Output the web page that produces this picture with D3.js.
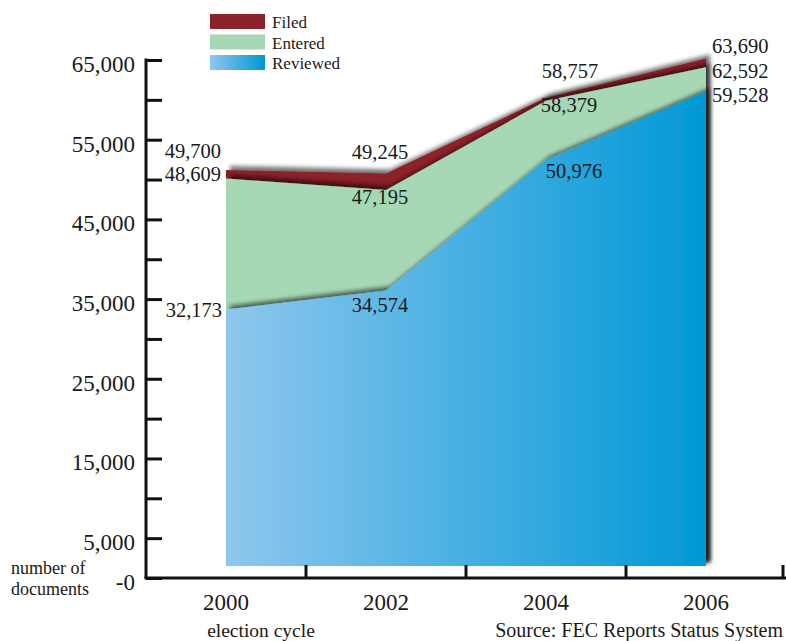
<!DOCTYPE html>
<html>
<head>
<meta charset="utf-8">
<script src="https://cdn.jsdelivr.net/npm/d3@7"></script>
<style>
  html, body { margin: 0; padding: 0; background: #fff; }
  svg { display: block; }
  text { font-family: "Liberation Serif", "DejaVu Serif", serif; fill: #1a1a1a; }
</style>
</head>
<body>
<svg id="chart" width="786" height="641"></svg>
<script>
// Election cycles and document counts per processing stage
const cycles = ["2000", "2002", "2004", "2006"];
const filed = [49700, 49245, 58757, 63690];
const entered = [48609, 47195, 58379, 62592];
const reviewed = [32173, 34574, 50976, 59528];
const seriesNames = ["Filed", "Entered", "Reviewed"];
const axisTicks = [0, 5000, 10000, 15000, 20000, 25000, 30000, 35000, 40000, 45000, 50000, 55000, 60000, 65000];
const axisLabelled = [0, 5000, 15000, 25000, 35000, 45000, 55000, 65000];

const W = 786, H = 641;
const svg = d3.select("#chart");
const defs = svg.append("defs");

const blueGrad = defs.append("linearGradient").attr("id", "blueArea")
  .attr("gradientUnits", "userSpaceOnUse").attr("x1", 226).attr("x2", 706).attr("y1", 0).attr("y2", 0);
blueGrad.append("stop").attr("offset", "0%").attr("stop-color", "#8fc7ee");
blueGrad.append("stop").attr("offset", "100%").attr("stop-color", "#0098d6");

const blueSwatch = defs.append("linearGradient").attr("id", "blueSwatch");
blueSwatch.append("stop").attr("offset", "0%").attr("stop-color", "#8fc7ee");
blueSwatch.append("stop").attr("offset", "100%").attr("stop-color", "#0098d6");

const shadow = defs.append("filter").attr("id", "shade")
  .attr("x", "-10%").attr("y", "-10%").attr("width", "120%").attr("height", "120%");
shadow.append("feDropShadow").attr("dx", 4).attr("dy", -4).attr("stdDeviation", 2)
  .attr("flood-color", "#000").attr("flood-opacity", 0.55);

// Scales: data area sits 12px above the drawn axis frame
const x = d3.scaleBand().domain(cycles).range([146, 786]).paddingInner(0).paddingOuter(0);
const cx = c => x(c) + x.bandwidth() / 2;
const y = d3.scaleLinear().domain([0, 65000]).range([566, 48]);
const axisShift = 12;

const colors = { Filed: "#8c222a", Entered: "#a6d8b6", Reviewed: "url(#blueArea)" };
const values = { Filed: filed, Entered: entered, Reviewed: reviewed };

const area = d3.area()
  .x((d, i) => cx(cycles[i]))
  .y0(y(0))
  .y1(d => y(d));

// Back to front: Filed, Entered, Reviewed
seriesNames.forEach(name => {
  svg.append("path")
    .datum(values[name])
    .attr("d", area)
    .attr("fill", colors[name])
    .attr("filter", "url(#shade)");
});

// Value labels: [dx, dy, anchor] relative to each point
const labelLayout = {
  Filed:    [[-5, -11.5, "end"], [-6, -14.5, "middle"], [24, -20, "middle"], [6, -5.5, "start"]],
  Entered:  [[-5, 2.5, "end"], [-6, 14, "middle"], [23, 11, "middle"], [6, 11, "start"]],
  Reviewed: [[-4, 7.5, "end"], [-6, 21.5, "middle"], [28, 18, "middle"], [6, 10.5, "start"]]
};
const fmt = d3.format(",");
seriesNames.forEach(name => {
  svg.append("g").selectAll("text")
    .data(values[name])
    .join("text")
    .attr("x", (d, i) => cx(cycles[i]) + labelLayout[name][i][0])
    .attr("y", (d, i) => y(d) + labelLayout[name][i][1])
    .attr("text-anchor", (d, i) => labelLayout[name][i][2])
    .attr("font-size", 20.5)
    .text(d => fmt(d));
});

// Y axis
const yAxisG = svg.append("g").attr("transform", `translate(146,${axisShift})`);
yAxisG.call(d3.axisRight(y).tickValues(axisTicks).tickSize(16).tickSizeOuter(0).tickFormat(""));
yAxisG.selectAll("path, line").attr("stroke", "#111").attr("stroke-width", 3);
yAxisG.select(".domain").attr("d", `M0,${y(65000) - 1.5}V${y(0)}`);
svg.append("g").selectAll("text")
  .data(axisLabelled)
  .join("text")
  .attr("x", 135)
  .attr("y", d => y(d) + axisShift + 12)
  .attr("text-anchor", "end")
  .attr("font-size", 23)
  .text(d => d === 0 ? "-0" : fmt(d));

// X axis: baseline with separators between cycles
const baseY = y(0) + axisShift;
svg.append("line").attr("x1", 144.5).attr("x2", W).attr("y1", baseY).attr("y2", baseY)
  .attr("stroke", "#111").attr("stroke-width", 3);
svg.append("g").selectAll("line")
  .data(cycles)
  .join("line")
  .attr("x1", d => Math.min(x(d) + x.bandwidth(), W - 3))
  .attr("x2", d => Math.min(x(d) + x.bandwidth(), W - 3))
  .attr("y1", baseY).attr("y2", baseY - 13)
  .attr("stroke", "#111").attr("stroke-width", 3);
svg.append("g").selectAll("text")
  .data(cycles)
  .join("text")
  .attr("x", d => cx(d))
  .attr("y", 610)
  .attr("text-anchor", "middle")
  .attr("font-size", 23)
  .text(d => d);

// Axis titles and source
svg.append("text").attr("x", 261).attr("y", 637).attr("text-anchor", "middle")
  .attr("font-size", 19.5).text("election cycle");
svg.append("text").attr("x", 783).attr("y", 637).attr("text-anchor", "end")
  .attr("font-size", 20).text("Source: FEC Reports Status System");
svg.append("text").attr("x", 11).attr("y", 574).attr("font-size", 18).text("number of");
svg.append("text").attr("x", 11).attr("y", 595).attr("font-size", 18).text("documents");

// Legend
const legend = svg.append("g");
const legendFill = { Filed: "#8c222a", Entered: "#a6d8b6", Reviewed: "url(#blueSwatch)" };
seriesNames.forEach((name, i) => {
  const top = 14 + i * 20.5;
  legend.append("rect").attr("x", 210).attr("y", top).attr("width", 55).attr("height", 15)
    .attr("fill", legendFill[name]);
  legend.append("text").attr("x", 272).attr("y", top + 14).attr("font-size", 17).text(name);
});
</script>
</body>
</html>
